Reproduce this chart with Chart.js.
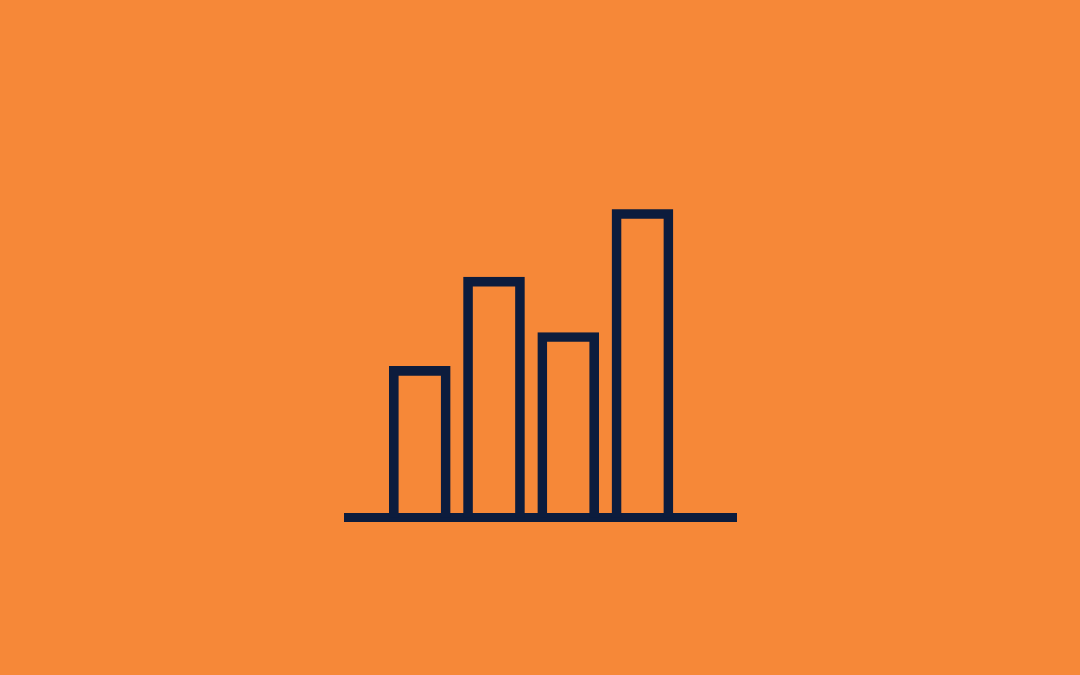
<!DOCTYPE html>
<html>
<head>
<meta charset="utf-8">
<script src="https://cdn.jsdelivr.net/npm/chart.js@4/dist/chart.umd.min.js"></script>
<style>
  html, body { margin: 0; padding: 0; background: #f68838; }
  #wrap { width: 1080px; height: 675px; }
</style>
</head>
<body>
<div id="wrap"><canvas id="barsChart"></canvas></div>
<script>
// DATOS DEL GRAFICO
const categories = ['A', 'B', 'C', 'D'];
const values = [49, 78, 60, 100];

const navy = '#0c1c3d';

const ctx = document.getElementById('barsChart').getContext('2d');

const barsChart = new Chart(ctx, {
    type: 'bar',
    data: {
        datasets: [{
            label: 'Serie',
            data: categories.map((c, i) => ({ x: i + 1, y: values[i] })),
            backgroundColor: 'rgba(0,0,0,0)',
            borderColor: navy,
            borderWidth: 9,
            borderSkipped: 'start',
            barThickness: 61
        }]
    },
    options: {
        responsive: true,
        maintainAspectRatio: false,
        animation: false,
        devicePixelRatio: 1,
        layout: {
            padding: { left: 348.5, right: 344, top: 209.3, bottom: 149.6 }
        },
        plugins: {
            legend: { display: false },
            tooltip: { enabled: false }
        },
        scales: {
            x: {
                type: 'linear',
                offset: false,
                min: 0.04,
                max: 5.26,
                grid: { display: false },
                ticks: { display: false },
                border: { display: true, color: navy, width: 9 }
            },
            y: {
                display: false,
                min: 0,
                max: 100
            }
        }
    }
});
</script>
</body>
</html>
